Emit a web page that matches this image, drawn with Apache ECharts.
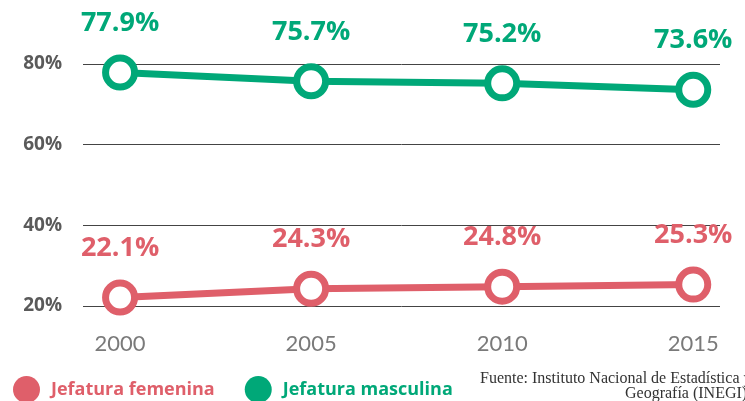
<!DOCTYPE html>
<html>
<head>
<meta charset="utf-8">
<script src="https://cdn.jsdelivr.net/npm/echarts@6/dist/echarts.min.js"></script>
<style>
  html, body { margin: 0; padding: 0; background: #fff; }
  #chart { width: 745px; height: 401px; }
</style>
</head>
<body>
<div id="chart"></div>
<script>
var years = [2000, 2005, 2010, 2015];
var femenina = [22.1, 24.3, 24.8, 25.3];
var masculina = [77.9, 75.7, 75.2, 73.6];
var yTicks = [20, 40, 60, 80];

var RED = '#df5f6a';
var GREEN = '#00a878';
var BOLD = '"Open Sans", "Noto Sans", sans-serif';
var FONT = 'Lato, "Noto Sans", sans-serif';

function pairs(vals) {
    return vals.map(function (v, i) { return [years[i], v]; });
}

function lineSeries(name, vals, color) {
    return {
        name: name,
        type: 'line',
        data: pairs(vals),
        symbol: 'circle',
        symbolSize: 29,
        clip: false,
        lineStyle: { color: color, width: 7 },
        itemStyle: { color: '#fff', borderColor: color, borderWidth: 7 },
        label: {
            show: true,
            position: 'top',
            distance: 18,
            color: color,
            fontFamily: BOLD,
            fontWeight: 'bold',
            fontSize: 27,
            formatter: function (p) { return p.value[1].toFixed(1) + '%'; }
        },
        emphasis: { disabled: true },
        z: 3
    };
}

var chart = echarts.init(document.getElementById('chart'));
chart.setOption({
    animation: false,
    grid: { left: 83, right: 25, top: 64, height: 242 },
    xAxis: {
        type: 'value',
        min: 1999.03,
        max: 2015.7,
        axisLine: { show: false },
        axisTick: { show: false },
        splitLine: { show: false },
        axisLabel: {
            customValues: years,
            margin: 27,
            color: '#7a7a7a',
            fontFamily: FONT,
            fontSize: 22,
            formatter: function (v) { return String(Math.round(v)); }
        }
    },
    yAxis: {
        type: 'value',
        min: 20,
        max: 80,
        interval: 20,
        axisLine: { show: false },
        axisTick: { show: false },
        axisLabel: {
            margin: 21,
            color: '#5a5a5a',
            fontFamily: BOLD,
            fontWeight: 'bold',
            fontSize: 19,
            formatter: '{value}%'
        },
        splitLine: { lineStyle: { color: '#444', width: 1 } }
    },
    legend: {
        left: 8,
        top: 371,
        icon: 'circle',
        itemWidth: 27,
        itemHeight: 27,
        itemGap: 30,
        data: [
            { name: 'Jefatura femenina', itemStyle: { color: RED, borderWidth: 0 }, textStyle: { color: RED } },
            { name: 'Jefatura masculina', itemStyle: { color: GREEN, borderWidth: 0 }, textStyle: { color: GREEN } }
        ],
        textStyle: { fontFamily: BOLD, fontWeight: 'bold', fontSize: 18, padding: [0, 0, 0, 6] }
    },
    graphic: [
        {
            type: 'text', left: 480, top: 371,
            style: { text: 'Fuente: Instituto Nacional de Estadística y', font: '16px "Liberation Serif", serif', fill: '#333' }
        },
        {
            type: 'text', left: 625, top: 386,
            style: { text: 'Geografía (INEGI)', font: '16px "Liberation Serif", serif', fill: '#333' }
        }
    ],
    series: [
        lineSeries('Jefatura femenina', femenina, RED),
        lineSeries('Jefatura masculina', masculina, GREEN)
    ]
});
</script>
</body>
</html>
